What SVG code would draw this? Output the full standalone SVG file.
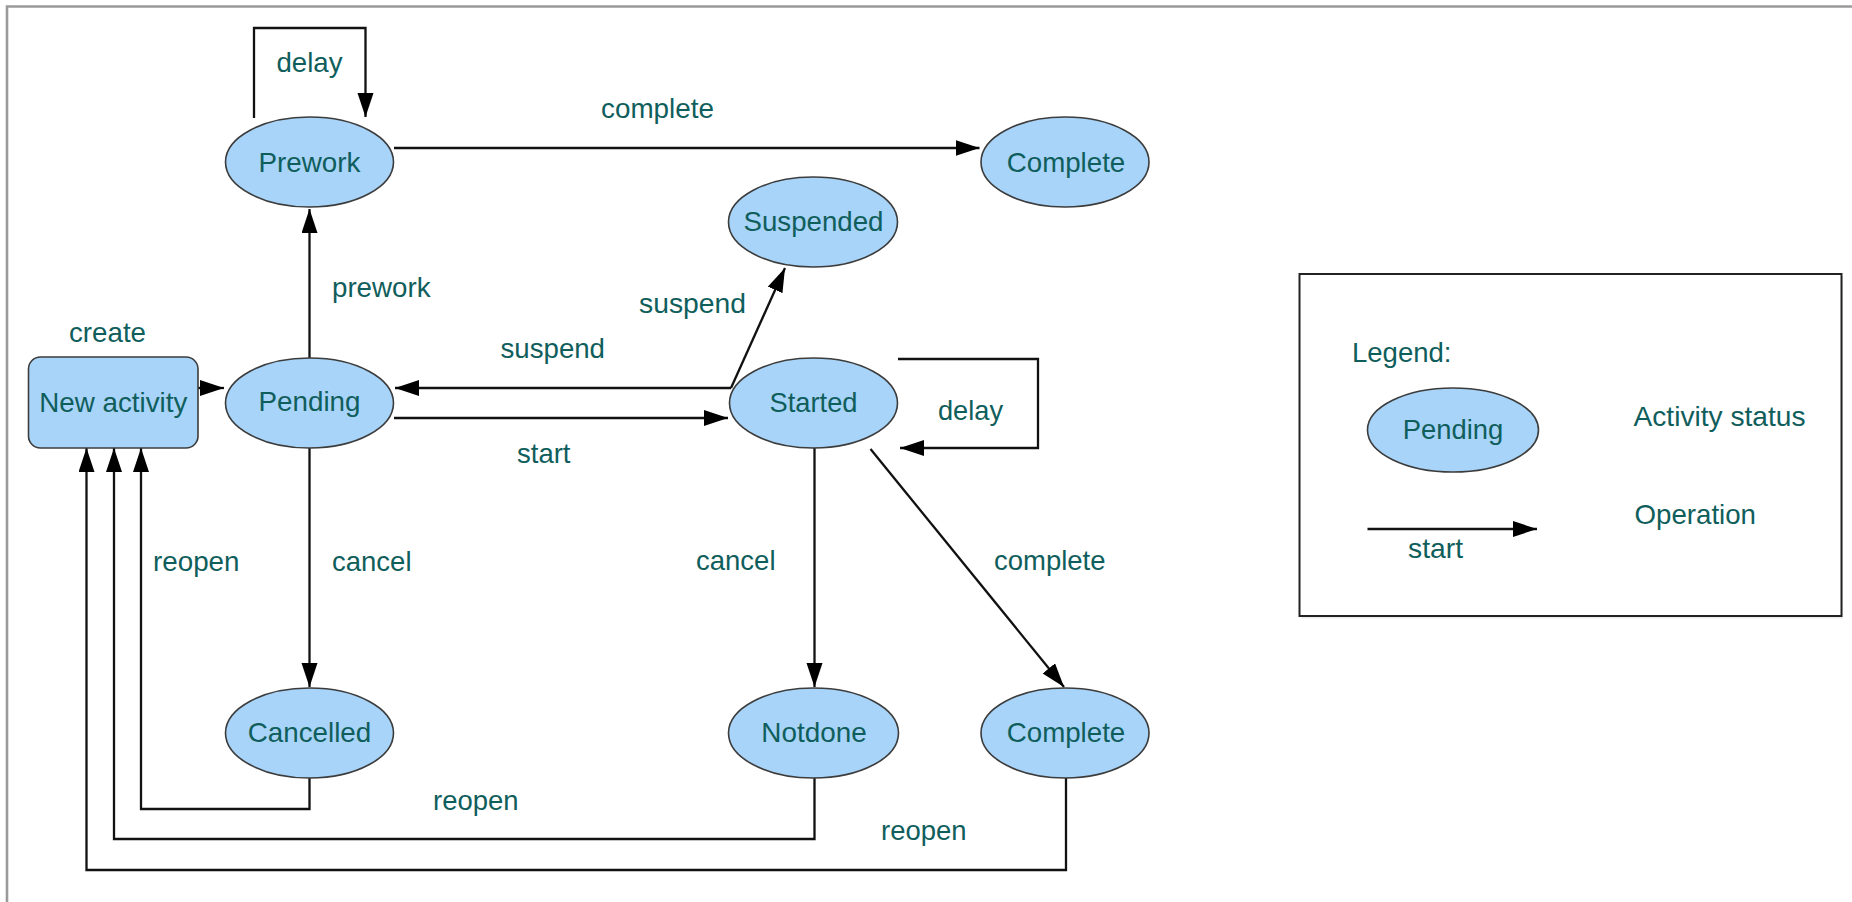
<svg xmlns="http://www.w3.org/2000/svg" width="1852" height="902" viewBox="0 0 1852 902">
  <style>
    .state { fill: #a7d4f8; stroke: #3c3c3c; stroke-width: 1.6; }
    .label { font-family: "Liberation Sans", Arial, sans-serif; font-size: 28px; fill: #105e5c; }
    .name { font-family: "Liberation Sans", Arial, sans-serif; font-size: 28px; fill: #105e5c; text-anchor: middle; }
    .edge { fill: none; stroke: #111; stroke-width: 2.3; marker-end: url(#arrow); }
  </style>
  <defs>
    <marker id="arrow" markerUnits="userSpaceOnUse" markerWidth="26" markerHeight="18" refX="24" refY="8" orient="auto">
      <path d="M0,0 L24,8 L0,16 z" fill="#000"/>
    </marker>
  </defs>

  <rect x="0" y="0" width="1852" height="902" fill="#fff"/>
  <!-- page frame -->
  <path d="M7,902 V6.5 H1852" fill="none" stroke="#9a9a9a" stroke-width="2.6"/>

  <!-- connectors -->
  <g id="connectors">
    <path class="edge" d="M254,118 V28 H365.5 V117"/>
    <path class="edge" d="M394,148 H979.5"/>
    <path class="edge" d="M309.5,358 V209"/>
    <path class="edge" d="M198,388 H224"/>
    <path class="edge" d="M731,388 H395"/>
    <path class="edge" d="M394,418 H728"/>
    <path class="edge" d="M731,388 L785,268"/>
    <path class="edge" d="M898,359 H1038 V448 H900"/>
    <path class="edge" d="M309.5,448 V687"/>
    <path class="edge" d="M814.5,448 V687"/>
    <path class="edge" d="M870.5,449 L1064,687"/>
    <path class="edge" d="M309.5,778 V809 H141 V448"/>
    <path class="edge" d="M814.5,778 V839 H114 V448"/>
    <path class="edge" d="M1066,778 V870 H86.5 V448"/>

    <text class="label" x="276.5" y="72" textLength="66" lengthAdjust="spacingAndGlyphs">delay</text>
    <text class="label" x="601" y="118" textLength="113" lengthAdjust="spacingAndGlyphs">complete</text>
    <text class="label" x="332" y="297" textLength="98.5" lengthAdjust="spacingAndGlyphs">prework</text>
    <text class="label" x="69" y="342" textLength="77" lengthAdjust="spacingAndGlyphs">create</text>
    <text class="label" x="500.5" y="358" textLength="104.5" lengthAdjust="spacingAndGlyphs">suspend</text>
    <text class="label" x="639" y="313" textLength="107" lengthAdjust="spacingAndGlyphs">suspend</text>
    <text class="label" x="517" y="463" textLength="53.5" lengthAdjust="spacingAndGlyphs">start</text>
    <text class="label" x="938" y="420" textLength="65" lengthAdjust="spacingAndGlyphs">delay</text>
    <text class="label" x="153" y="571" textLength="86.5" lengthAdjust="spacingAndGlyphs">reopen</text>
    <text class="label" x="332" y="571" textLength="79.5" lengthAdjust="spacingAndGlyphs">cancel</text>
    <text class="label" x="696" y="570" textLength="79.5" lengthAdjust="spacingAndGlyphs">cancel</text>
    <text class="label" x="994" y="570" textLength="111.5" lengthAdjust="spacingAndGlyphs">complete</text>
    <text class="label" x="433" y="810" textLength="85.5" lengthAdjust="spacingAndGlyphs">reopen</text>
    <text class="label" x="881" y="840" textLength="85.5" lengthAdjust="spacingAndGlyphs">reopen</text>
  </g>

  <!-- states -->
  <g id="new-activity">
    <rect class="state" x="28.5" y="357" width="169.5" height="91" rx="12"/>
    <text class="name" x="113.3" y="412" textLength="148" lengthAdjust="spacingAndGlyphs">New activity</text>
  </g>
  <g id="prework">
    <ellipse class="state" cx="309.5" cy="162" rx="84" ry="45"/>
    <text class="name" x="309.5" y="172" textLength="102" lengthAdjust="spacingAndGlyphs">Prework</text>
  </g>
  <g id="pending">
    <ellipse class="state" cx="309.5" cy="403" rx="84" ry="45"/>
    <text class="name" x="309.5" y="411" textLength="102" lengthAdjust="spacingAndGlyphs">Pending</text>
  </g>
  <g id="complete-top">
    <ellipse class="state" cx="1065" cy="162" rx="84" ry="45"/>
    <text class="name" x="1066" y="172" textLength="118.5" lengthAdjust="spacingAndGlyphs">Complete</text>
  </g>
  <g id="suspended">
    <ellipse class="state" cx="813" cy="222" rx="84.5" ry="45"/>
    <text class="name" x="813.5" y="231" textLength="140" lengthAdjust="spacingAndGlyphs">Suspended</text>
  </g>
  <g id="started">
    <ellipse class="state" cx="813.5" cy="403" rx="84" ry="45"/>
    <text class="name" x="813.5" y="412" textLength="88" lengthAdjust="spacingAndGlyphs">Started</text>
  </g>
  <g id="cancelled">
    <ellipse class="state" cx="309.5" cy="733" rx="84" ry="45"/>
    <text class="name" x="309.5" y="742" textLength="123.5" lengthAdjust="spacingAndGlyphs">Cancelled</text>
  </g>
  <g id="notdone">
    <ellipse class="state" cx="813.5" cy="733" rx="85" ry="45"/>
    <text class="name" x="814" y="742" textLength="105.5" lengthAdjust="spacingAndGlyphs">Notdone</text>
  </g>
  <g id="complete-bottom">
    <ellipse class="state" cx="1065" cy="733" rx="84" ry="45"/>
    <text class="name" x="1066" y="742" textLength="118.5" lengthAdjust="spacingAndGlyphs">Complete</text>
  </g>

  <!-- legend -->
  <g id="legend">
    <rect x="1301" y="276.5" width="542" height="342" fill="#e4e4e4" opacity="0.7"/>
    <rect x="1299.5" y="274" width="542" height="342" fill="#fff" stroke="#222" stroke-width="2"/>
    <text class="label" x="1352" y="362" textLength="99.5" lengthAdjust="spacingAndGlyphs">Legend:</text>
    <ellipse class="state" cx="1453" cy="430" rx="85.5" ry="42"/>
    <text class="name" x="1453" y="439" textLength="100.5" lengthAdjust="spacingAndGlyphs">Pending</text>
    <text class="label" x="1633.5" y="426" textLength="172" lengthAdjust="spacingAndGlyphs">Activity status</text>
    <path class="edge" d="M1367.5,529 H1537"/>
    <text class="label" x="1408" y="558" textLength="55" lengthAdjust="spacingAndGlyphs">start</text>
    <text class="label" x="1634.5" y="524" textLength="121.5" lengthAdjust="spacingAndGlyphs">Operation</text>
  </g>
</svg>
